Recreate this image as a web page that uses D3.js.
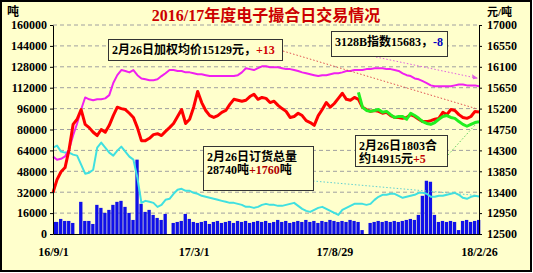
<!DOCTYPE html>
<html>
<head>
<meta charset="utf-8">
<script src="https://cdn.jsdelivr.net/npm/d3@7"></script>
<style>
  body { margin: 0; background: #fff; }
  svg text { font-family: "Liberation Serif", "Noto Sans CJK SC", serif; font-weight: bold; }
</style>
</head>
<body>
<div id="chart"></div>
<script>
// x axis labels (trading-day index positions)
const dateLabels = ['16/9/1', '17/3/1', '17/8/29', '18/2/26'];
const dateIdx = [0, 35, 70, 106];

// weighted average price, yuan/ton (right axis)
const avgPrice = [13390,13670,13840,13930,14320,14860,14970,15180,14860,14790,14690,14620,14750,14690,14840,15050,15230,15200,15180,15100,
  15010,14790,14510,14510,14560,14640,14660,14620,14710,14790,14880,15030,15180,14880,14970,15230,15570,15330,15160,15050,
  15010,15050,15120,15160,15290,15400,15380,15360,15380,15460,15510,15400,15440,15420,15330,15360,15270,15200,15140,15010,
  15030,15100,15050,14940,14900,14840,15050,15180,15330,15230,15310,15420,15530,15400,15380,15440,15400,15230,15180,15140,
  15160,15140,15100,15120,15050,15010,15010,14990,15010,15070,15030,14970,14920,14920,14940,14970,14990,15120,15070,15180,
  15160,15070,15010,14990,15030,15140,15129];

// 312 index (right axis)
const index312 = [14170,14100,14120,14170,14320,14620,14880,15180,15440,15400,15380,15400,15400,15420,15490,15750,15920,16030,16010,15980,
  16030,15920,15850,15830,15810,15810,15830,15900,15960,16030,16030,16010,16010,15980,15980,15960,15940,15940,15920,15900,
  15900,15900,15900,15900,15900,15900,15920,15980,16070,16050,16030,16070,16110,16110,16090,16090,16090,16070,16050,16050,
  16030,16010,15980,15960,15940,15920,15900,15920,15920,15940,15960,15960,15980,16010,16010,16030,16030,16030,16050,16050,
  16070,16070,16070,16050,16050,16030,16010,15960,15920,15900,15850,15830,15790,15750,15700,15680,15680,15680,15680,15680,
  15700,15720,15720,15700,15700,15700,15683];

// 1803 contract, starts at index 76 (right axis)
const c1803Start = 76;
const c1803 = [15550,15230,15160,15140,15160,15180,15120,15140,15070,15010,15030,15030,14970,15100,15050,14990,14920,14880,14860,14900,
  14970,15030,15050,15010,14990,14920,14860,14820,14860,14900,14915];

// total orders, tons (left axis)
const orders = [66150,67690,63080,62310,62310,60770,60000,53080,46150,46920,49230,66150,70000,66150,62310,60000,63850,66920,63080,59230,
  56920,43080,23850,25380,24620,23850,20770,22310,26150,26920,30770,33850,34620,33080,33080,31540,30770,29230,28460,27690,
  26920,26150,25380,24620,23850,23850,23080,22310,20770,20770,20000,20770,22310,23080,22310,22310,21540,21540,22310,23080,
  23850,21540,19230,17690,16920,18460,20000,20770,19230,17690,16150,14620,18460,20000,21540,23080,23080,23080,22310,23080,
  26150,28460,30000,30000,30770,30770,29230,27690,28460,29230,30000,31540,31540,30770,28460,28460,29230,29230,30000,30770,
  31540,30000,27690,26920,28460,29230,28740];

// daily volume, tons (left axis bars)
const volume = [9230,9230,11540,10000,10000,8460,0,24620,10000,10000,7690,22310,20000,16150,18460,22310,24620,25380,20770,16150,
  10770,56920,23080,16920,18460,14620,12310,10770,15380,0,8460,9230,10000,15380,11540,9230,8460,9230,10000,7690,
  9230,10000,8460,9230,10000,8460,10000,9230,10000,8460,9230,10000,9230,10000,8460,9230,10770,9230,10000,8460,
  9230,10000,9230,10770,9230,10000,8460,10000,9230,10770,10000,9230,10000,9230,10770,10000,9230,3000,0,8460,
  9230,10000,9230,10000,9230,10000,9230,10000,10770,11540,10770,14620,29230,40770,40000,14620,9230,10000,9230,10000,
  9230,3000,10000,10770,9230,10000,10770];

const leftTicks = d3.range(0, 160001, 16000);
const rightTicks = d3.range(12500, 17001, 450);

const W = 533, H = 273;
const plot = { left: 53, right: 479, top: 25, bottom: 234 };
const bg = '#FFFFCC';

const svg = d3.select('#chart').append('svg')
  .attr('width', W).attr('height', H);

svg.append('rect')
  .attr('x', 1).attr('y', 1).attr('width', W - 3).attr('height', H - 3)
  .attr('fill', bg).attr('stroke', '#000').attr('stroke-width', 2);

const n = avgPrice.length;
const x = d3.scaleLinear().domain([0, n - 1]).range([plot.left, plot.right]);
const yL = d3.scaleLinear().domain([0, 160000]).range([plot.bottom, plot.top]);
const yR = d3.scaleLinear().domain([12500, 17000]).range([plot.bottom, plot.top]);

// grid
svg.append('g').selectAll('line')
  .data(leftTicks.slice(1))
  .enter().append('line')
  .attr('x1', plot.left).attr('x2', plot.right)
  .attr('y1', d => yL(d)).attr('y2', d => yL(d))
  .attr('stroke', '#a0a0a0').attr('stroke-dasharray', '4,3');

// volume bars
const step = x(1) - x(0);
svg.append('g').selectAll('rect')
  .data(volume)
  .enter().append('rect')
  .attr('x', (d, i) => Math.max(plot.left, x(i) - step / 2))
  .attr('width', (d, i) => step - 0.7)
  .attr('y', d => yL(d))
  .attr('height', d => plot.bottom - yL(d))
  .attr('fill', '#1010E8');

function drawLine(data, yScale, color, width, offset) {
  const line = d3.line()
    .x((d, i) => x(i + (offset || 0)))
    .y(d => yScale(d));
  svg.append('path')
    .datum(data)
    .attr('d', line)
    .attr('fill', 'none')
    .attr('stroke', color)
    .attr('stroke-width', width)
    .attr('stroke-linejoin', 'round');
}

drawLine(orders, yL, '#40E0E0', 2);
drawLine(index312, yR, '#F020F0', 2);
drawLine(avgPrice, yR, '#FF0000', 3);
drawLine(c1803, yR, '#20F020', 3, c1803Start);

// axes
const axisFont = g => g.selectAll('text')
  .style('font-size', '12px').style('font-weight', 'bold')
  .style('font-family', '"Liberation Serif", serif').attr('fill', '#000');

svg.append('g')
  .attr('transform', `translate(${plot.left},0)`)
  .call(d3.axisLeft(yL).tickValues(leftTicks).tickSize(3).tickSizeOuter(0).tickFormat(d3.format('d')))
  .call(axisFont)
  .call(g => g.select('.domain').attr('stroke', '#000'));

svg.append('g')
  .attr('transform', `translate(${plot.right},0)`)
  .call(d3.axisRight(yR).tickValues(rightTicks).tickSize(3).tickSizeOuter(0).tickFormat(d3.format('d')))
  .call(axisFont)
  .call(g => g.selectAll('text').attr('x', 8));

svg.append('g')
  .attr('transform', `translate(0,${plot.bottom})`)
  .call(d3.axisBottom(x).tickValues(dateIdx).tickSize(0).tickFormat((d, i) => dateLabels[i]))
  .call(axisFont)
  .call(g => g.selectAll('text').attr('y', 13))
  .call(g => g.select('.domain').attr('stroke', '#000'));

// titles
svg.append('text')
  .attr('x', 266).attr('y', 21).attr('text-anchor', 'middle')
  .attr('fill', '#CC0000').style('font-size', '16px')
  .text('2016/17年度电子撮合日交易情况');

svg.append('text').attr('x', 7).attr('y', 16)
  .style('font-size', '12px').text('吨');
svg.append('text').attr('x', 487).attr('y', 16)
  .style('font-size', '11px').text('元/吨');

// annotation leader lines
const last = n - 1;
const cLast = c1803Start + c1803.length - 1;
function leader(x1, y1, x2, y2, color) {
  svg.append('line')
    .attr('x1', x1).attr('y1', y1).attr('x2', x2).attr('y2', y2)
    .attr('stroke', color).attr('stroke-width', 1)
    .attr('stroke-dasharray', '1.5,2');
}
leader(283, 51, x(last) - 2, yR(avgPrice[last]) - 3, '#E05050');
leader(376, 57, x(last) - 2, yR(index312[last]) - 8, '#E060E0');
leader(313, 181, x(last) - 2, yL(orders[last]) - 1, '#60D0D0');
leader(448, 155, x(cLast) - 2, yR(c1803[c1803.length - 1]) + 1, '#60D060');

svg.append('path')
  .attr('d', `M${x(last) - 1},${yR(index312[last]) - 8} l-6,-4 l1,5 z`)
  .attr('fill', '#E060E0');

// annotation boxes
function box(bx, by, bw, bh, lines) {
  svg.append('rect')
    .attr('x', bx + 0.5).attr('y', by + 0.5).attr('width', bw).attr('height', bh)
    .attr('fill', bg).attr('stroke', '#333').attr('stroke-width', 1);
  lines.forEach((parts, li) => {
    const t = svg.append('text')
      .attr('x', bx + 4).attr('y', by + 15 + li * 13)
      .style('font-size', '12px');
    parts.forEach(p => t.append('tspan').attr('fill', p[1]).text(p[0]));
  });
}

box(108, 39, 174, 21, [[['2月26日加权均价15129元，', '#000'], ['+13', '#D00000']]]);
box(331, 31, 116, 25, [[['3128B指数15683，', '#000'], ['-8', '#0000C0']]]);
box(203, 146, 110, 44, [[['2月26日订货总量', '#000']],
  [['28740吨', '#000'], ['+1760', '#B00000'], ['吨', '#000']]]);
box(355, 135, 92, 31, [[['2月26日1803合', '#000']],
  [['约14915元', '#000'], ['+5', '#C00000']]]);
</script>
</body>
</html>
